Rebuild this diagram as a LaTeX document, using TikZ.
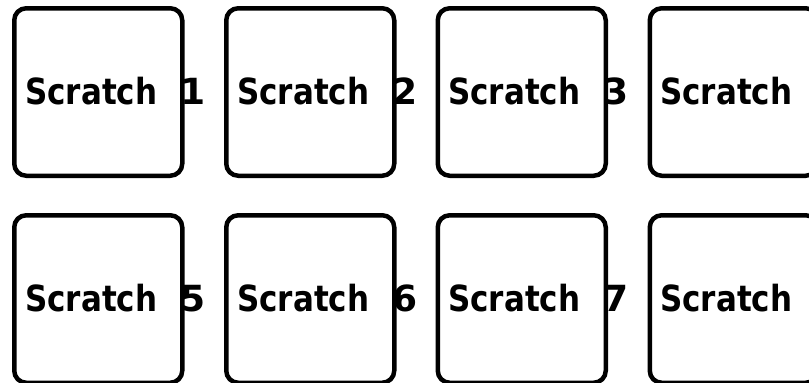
\documentclass[tikz,border=0pt]{standalone}
\usepackage{fontspec}
\setmainfont{DejaVu Sans}
\begin{document}
\begin{tikzpicture}[x=1pt,y=-1pt,
  pad/.style={draw=black,line width=4.5pt,rounded corners=12pt,minimum width=168pt,minimum height=167.5pt,inner sep=0pt,anchor=north west},
  padtext/.style={anchor=base west,inner sep=0pt,font=\fontsize{36}{40}\selectfont\bfseries}]
\useasboundingbox (0,0) rectangle (809,383);
\foreach \col/\x in {0/12,1/224,2/435.5,3/647.5}{
  \foreach \row/\y in {0/6,1/213}{
    \node[pad] (p\row\col) at (\x,\y) {};
  }
}
\foreach \n/\x/\y in {1/25/104,2/237/104,3/448/104,4/660/104,5/25/311,6/237/311,7/448/311,8/660/311}{
  \node[padtext] (t\n) at (\x,\y) {\makebox[155pt][l]{\scalebox{0.86}[1]{Scratch}}\n};
}
\end{tikzpicture}
\end{document}
